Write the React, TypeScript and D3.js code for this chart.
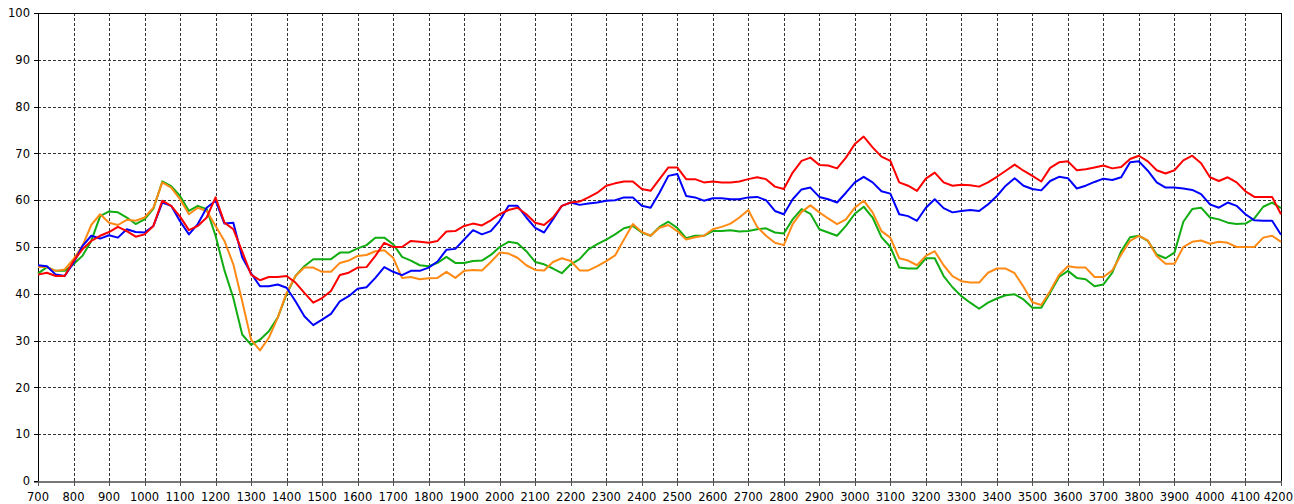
import React, { useEffect, useRef } from 'react'
import * as d3 from 'd3'

// frequency axis, one sample every 25
const freqs = d3.range(700, 4201, 25)
const xTicks = d3.range(700, 4201, 100)
const yTicks = d3.range(0, 101, 10)

const red = [
  44.1, 44.5, 43.8, 43.8, 47, 49.5, 51.3, 52.4, 53.2, 54.3, 53.4, 52.2, 52.7, 54.5, 59.9, 58.8, 56.5, 53.6, 54.5, 56.3,
  60.6, 55.2, 53.8, 49, 44.1, 42.9, 43.6, 43.6, 43.8, 42.4, 40.2, 38.1, 39.1, 40.6, 44, 44.5, 45.6, 45.7, 48.1, 50.9,
  50, 50, 51.3, 51.1, 50.9, 51.3, 53.3, 53.4, 54.5, 55, 54.6, 55.7, 57, 57.9, 58.4, 57, 55.2, 54.7, 56.3, 58.8,
  59.5, 59.7, 60.6, 61.6, 63.1, 63.6, 64, 64, 62.4, 62, 64.5, 67, 67, 64.5, 64.5, 63.8, 64, 63.8, 63.8, 64,
  64.5, 64.9, 64.5, 62.9, 62.4, 65.9, 68.4, 69.1, 67.5, 67.4, 66.8, 69.1, 72, 73.6, 71.3, 69.3, 68.4, 63.8, 63.1, 62,
  64.6, 65.9, 63.8, 63.1, 63.3, 63.2, 62.9, 63.8, 65, 66.3, 67.6, 66.3, 65.2, 64, 66.9, 68.1, 68.3, 66.4, 66.6, 67,
  67.4, 66.8, 67.1, 68.8, 69.5, 68.3, 66.4, 65.7, 66.4, 68.5, 69.5, 67.9, 64.9, 64.1, 64.9, 63.8, 61.9, 60.7, 60.7, 60.7,
  57,
]

const blue = [
  46.1, 45.9, 44.1, 43.8, 46.6, 50.2, 52.4, 51.8, 52.5, 52, 53.8, 53.2, 53.1, 54.5, 59.5, 58.8, 55.5, 52.7, 54.9, 58.4,
  59.9, 55, 55.2, 47.8, 44.4, 41.6, 41.6, 42, 41.3, 38.4, 35.2, 33.3, 34.5, 35.7, 38.4, 39.5, 41.1, 41.4, 43.4, 45.7,
  44.7, 44, 44.9, 44.9, 45.6, 46.9, 49.4, 49.6, 51.6, 53.6, 52.7, 53.4, 55.6, 58.8, 58.8, 56.3, 54.1, 53.1, 55.9, 58.8,
  59.5, 59, 59.3, 59.5, 59.9, 60, 60.6, 60.6, 58.8, 58.4, 61.6, 65.2, 65.6, 60.9, 60.6, 59.9, 60.4, 60.4, 60.2, 60.2,
  60.6, 60.7, 60, 57.7, 57, 60.2, 62.3, 62.7, 60.7, 60.2, 59.5, 61.6, 63.8, 65, 63.8, 61.9, 61.4, 57, 56.6, 55.6,
  58.4, 60.2, 58.3, 57.4, 57.7, 57.9, 57.7, 59.1, 60.9, 63.1, 64.7, 63.1, 62.4, 62.1, 64.1, 65, 64.7, 62.5, 63.1, 63.9,
  64.6, 64.3, 64.9, 68.1, 68.3, 66.3, 63.8, 62.7, 62.7, 62.5, 62.2, 61.3, 59.1, 58.4, 59.5, 58.8, 57, 55.7, 55.6, 55.6,
  52.6,
]

const green = [
  44.3, 45.7, 44.9, 44.9, 46.3, 48.1, 51.3, 56.6, 57.6, 57.4, 56.3, 54.9, 55.9, 58.2, 64, 63, 60.9, 57.7, 58.8, 58.1,
  52.4, 45, 39.1, 31.3, 29.1, 30.2, 32, 34.9, 39.9, 43.8, 45.9, 47.4, 47.4, 47.4, 48.8, 48.8, 49.7, 50.4, 52, 52,
  50.6, 47.9, 47.1, 46.1, 45.9, 46.6, 47.9, 46.6, 46.6, 47, 47.1, 48.3, 50, 51.1, 50.8, 49.1, 46.8, 46.3, 45.4, 44.4,
  46.3, 47.4, 49.5, 50.6, 51.6, 52.7, 54, 54.5, 53.1, 52.4, 54.3, 55.4, 54.1, 51.9, 52.4, 52.4, 53.4, 53.4, 53.6, 53.3,
  53.4, 53.8, 54, 53.1, 52.9, 55.9, 58.1, 57.1, 53.8, 53.1, 52.4, 54.5, 57.1, 58.6, 56.3, 52.1, 50, 45.6, 45.4, 45.4,
  47.6, 47.6, 43.8, 41.4, 39.5, 38.1, 36.8, 38.1, 39, 39.7, 39.9, 38.8, 37, 37, 40.2, 43.6, 44.9, 43.4, 43.1, 41.6,
  42, 44.5, 49.1, 52.1, 52.4, 51.3, 48.4, 47.6, 48.8, 55.4, 58.1, 58.4, 56.3, 55.9, 55.2, 54.9, 55, 56.1, 58.6, 59.5,
  58.3,
]

const orange = [
  45.7, 45.7, 44.9, 45.2, 47.4, 50.2, 54.7, 57, 55.2, 54.7, 55.8, 55.6, 56.3, 58.4, 63.8, 62.7, 60.2, 57, 58.4, 57.7,
  54.5, 51.3, 46.3, 38.4, 30.2, 27.9, 30.6, 34.9, 40.2, 43.8, 45.6, 45.6, 44.7, 44.7, 46.6, 47.1, 48.1, 48.3, 49.1, 49.3,
  47.7, 43.4, 43.6, 43.1, 43.3, 43.4, 44.7, 43.4, 44.9, 45.1, 45, 46.8, 48.8, 48.6, 47.7, 46.1, 45.1, 45, 46.8, 47.6,
  47, 45, 45, 45.9, 47, 48.2, 51.6, 54.9, 53.2, 52.4, 54.1, 54.7, 53.4, 51.6, 52.1, 52.4, 53.8, 54.3, 55, 56.3,
  57.9, 54.3, 52.4, 50.9, 50.4, 54.9, 57.5, 58.9, 57.4, 56.1, 54.9, 55.9, 58.4, 59.9, 57.4, 53.4, 52, 47.6, 47.1, 46.1,
  48.1, 49.1, 46.1, 43.8, 42.7, 42.4, 42.4, 44.5, 45.4, 45.4, 44.4, 41.5, 38.2, 37.6, 40.6, 44, 45.9, 45.6, 45.6, 43.6,
  43.6, 45, 48.4, 51.3, 52.4, 51.4, 48.1, 46.4, 46.4, 50, 51.1, 51.4, 50.7, 51.1, 50.9, 50, 50, 50, 52, 52.4,
  51.1,
]

const series = [
  { name: 'green', color: '#12ad12', values: green },
  { name: 'orange', color: '#ff8a14', values: orange },
  { name: 'blue', color: '#0000ff', values: blue },
  { name: 'red', color: '#ff0000', values: red },
]

const width = 1294
const height = 504
const margin = { top: 13, right: 13, bottom: 23, left: 38 }

export default function App() {
  const ref = useRef<SVGSVGElement>(null)

  useEffect(() => {
    const svg = d3.select(ref.current)
    svg.selectAll('*').remove()

    const x = d3.scaleLinear().domain([700, 4200]).range([margin.left, width - margin.right])
    const y = d3.scaleLinear().domain([0, 100]).range([height - margin.bottom, margin.top])

    svg.append('rect').attr('width', width).attr('height', height).attr('fill', '#fff')

    // grid
    const grid = svg.append('g').attr('stroke', '#333').attr('stroke-dasharray', '3,2').attr('shape-rendering', 'crispEdges')
    grid.selectAll('line.v')
      .data(xTicks.slice(1, -1))
      .join('line')
      .attr('x1', (d) => Math.round(x(d)) + 0.5)
      .attr('x2', (d) => Math.round(x(d)) + 0.5)
      .attr('y1', y(100))
      .attr('y2', y(0))
    grid.selectAll('line.h')
      .data(yTicks.slice(1, -1))
      .enter()
      .append('line')
      .attr('x1', x(700))
      .attr('x2', x(4200))
      .attr('y1', (d) => Math.round(y(d)) + 0.5)
      .attr('y2', (d) => Math.round(y(d)) + 0.5)

    // frame
    const frame = svg.append('g').attr('shape-rendering', 'crispEdges').attr('stroke-width', 1)
    frame.append('line').attr('x1', x(700)).attr('x2', x(4200)).attr('y1', y(100) + 0.5).attr('y2', y(100) + 0.5).attr('stroke', '#000')
    frame.append('line').attr('x1', x(700) + 0.5).attr('x2', x(700) + 0.5).attr('y1', y(100)).attr('y2', y(0) + 4).attr('stroke', '#000')
    frame.append('line').attr('x1', x(4200) + 0.5).attr('x2', x(4200) + 0.5).attr('y1', y(100)).attr('y2', y(0)).attr('stroke', '#000')
    frame.append('line').attr('x1', x(700) - 4).attr('x2', x(4200)).attr('y1', y(0) + 0.5).attr('y2', y(0) + 0.5).attr('stroke', '#777').attr('stroke-width', 2)

    // tick marks
    frame.selectAll('line.xt')
      .data(xTicks)
      .enter()
      .append('line')
      .attr('x1', (d) => Math.round(x(d)) + 0.5)
      .attr('x2', (d) => Math.round(x(d)) + 0.5)
      .attr('y1', y(0))
      .attr('y2', y(0) + 5)
      .attr('stroke', '#555')
    frame.selectAll('line.yt')
      .data(yTicks)
      .enter()
      .append('line')
      .attr('x1', x(700) - 4)
      .attr('x2', x(700))
      .attr('y1', (d) => Math.round(y(d)) + 0.5)
      .attr('y2', (d) => Math.round(y(d)) + 0.5)
      .attr('stroke', '#000')

    // labels
    const font = '"DejaVu Sans", sans-serif'
    svg.append('g')
      .selectAll('text')
      .data(yTicks)
      .join('text')
      .attr('x', x(700) - 8)
      .attr('y', (d) => y(d))
      .attr('dy', '0.36em')
      .attr('text-anchor', 'end')
      .attr('font-family', font)
      .attr('font-size', 11.5)
      .attr('fill', '#000')
      .text((d) => d)
    const lastTick = xTicks[xTicks.length - 1]
    svg.append('g')
      .selectAll('text')
      .data(xTicks)
      .join('text')
      .attr('x', (d) => (d === lastTick ? width - 1 : x(d)))
      .attr('y', height - 3)
      .attr('text-anchor', (d) => (d === lastTick ? 'end' : 'middle'))
      .attr('font-family', font)
      .attr('font-size', 11.5)
      .attr('fill', '#000')
      .text((d) => d)

    // lines
    const line = d3.line<number>()
      .x((d, i) => x(freqs[i]))
      .y((d) => y(d))

    svg.append('g')
      .selectAll('path')
      .data(series)
      .join('path')
      .attr('d', (s) => line(s.values))
      .attr('fill', 'none')
      .attr('stroke', (s) => s.color)
      .attr('stroke-width', 2)
      .attr('stroke-linejoin', 'round')
  }, [])

  return (
    <div style={{ position: 'absolute', left: 0, top: 0 }}>
      <svg ref={ref} width={width} height={height} style={{ display: 'block' }}></svg>
    </div>
  )
}
